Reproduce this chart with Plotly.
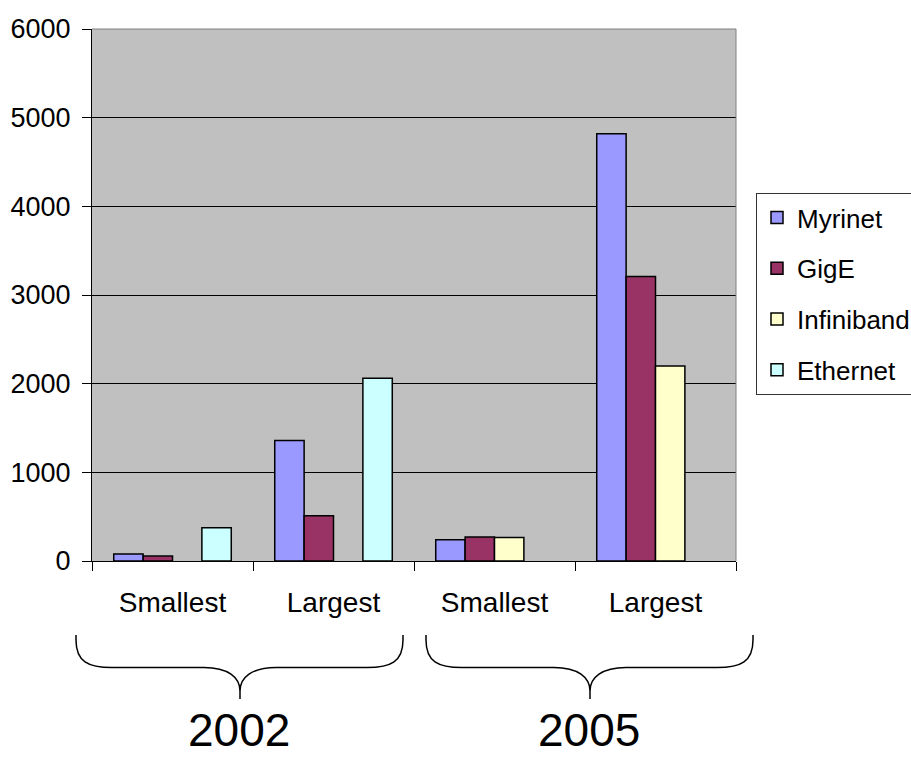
import plotly.graph_objects as go

# ---- data ----
categories = ["2002 Smallest", "2002 Largest", "2005 Smallest", "2005 Largest"]
tick_labels = ["Smallest", "Largest", "Smallest", "Largest"]
years = ["2002", "2005"]
myrinet = [80, 1360, 240, 4820]
gige = [55, 510, 270, 3210]
infiniband = [None, None, 265, 2200]
ethernet = [375, 2060, None, None]

series = [
    ("Myrinet", myrinet, "#9999FF"),
    ("GigE", gige, "#993366"),
    ("Infiniband", infiniband, "#FFFFCC"),
    ("Ethernet", ethernet, "#CCFFFF"),
]

W, H = 911, 759
L, R, T, B = 92, 175, 29, 198
PW = W - L - R
PH = H - T - B
FONT = "Liberation Sans, Arial, sans-serif"


def px(x):
    return (x - L) / PW


def py(y):
    return (H - B - y) / PH


fig = go.Figure()
for i, (name, vals, col) in enumerate(series):
    fig.add_trace(go.Bar(
        x=categories, y=vals, name=name,
        marker=dict(color=col, line=dict(color="black", width=1.5)),
        legendgroup=f"g{i}",
    ))


def brace(x0, xc, x1, ytop=635, ymid=667.5, ybot=699):
    def P(x, y):
        return f"{px(x):.5f},{py(y):.5f}"
    d = (f"M {P(x0, ytop)} L {P(x0, ytop + 5)} "
         f"C {P(x0, ymid - 6)} {P(x0 + 12, ymid)} {P(x0 + 36, ymid)} "
         f"L {P(xc - 36, ymid)} "
         f"C {P(xc - 12, ymid)} {P(xc, ymid + 10)} {P(xc, ybot - 8)} "
         f"L {P(xc, ybot)} M {P(xc, ybot - 8)} "
         f"C {P(xc, ymid + 10)} {P(xc + 12, ymid)} {P(xc + 36, ymid)} "
         f"L {P(x1 - 36, ymid)} "
         f"C {P(x1 - 12, ymid)} {P(x1, ymid - 6)} {P(x1, ytop + 5)} "
         f"L {P(x1, ytop)}")
    return d


shapes = [
    dict(type="path", xref="paper", yref="paper",
         path="M 0,1 L 1,1 L 1,0", line=dict(color="#808080", width=1),
         layer="above"),
    dict(type="path", xref="paper", yref="paper",
         path=brace(76, 240, 403), line=dict(color="black", width=1.5)),
    dict(type="path", xref="paper", yref="paper",
         path=brace(426, 590, 753), line=dict(color="black", width=1.5)),
]

annotations = [
    dict(text=years[0], x=px(239), y=py(758), xref="paper", yref="paper",
         showarrow=False, xanchor="center", yanchor="bottom",
         font=dict(family=FONT, size=46, color="black")),
    dict(text=years[1], x=px(589), y=py(758), xref="paper", yref="paper",
         showarrow=False, xanchor="center", yanchor="bottom",
         font=dict(family=FONT, size=46, color="black")),
]

fig.update_layout(
    width=W, height=H,
    margin=dict(l=L, r=R, t=T, b=B, autoexpand=False),
    paper_bgcolor="white",
    plot_bgcolor="#C0C0C0",
    barmode="group",
    bargap=0.27,
    bargroupgap=0,
    font=dict(family=FONT, color="black"),
    showlegend=True,
    legend=dict(
        x=px(756), y=py(193), xanchor="left", yanchor="top",
        bgcolor="white", bordercolor="#333333", borderwidth=1,
        font=dict(family=FONT, size=26, color="black"),
        traceorder="grouped", tracegroupgap=14,
    ),
    xaxis=dict(
        type="category", categoryorder="array", categoryarray=categories,
        tickmode="array", tickvals=categories, ticktext=tick_labels,
        tickson="boundaries", ticks="outside", ticklen=9, tickcolor="black",
        showline=True, linecolor="black", linewidth=1,
        showgrid=False,
        tickfont=dict(family=FONT, size=28, color="black"),
        ticklabelstandoff=16,
    ),
    yaxis=dict(
        range=[0, 6000], dtick=1000, tick0=0, tickformat="d",
        ticks="outside", ticklen=9, tickcolor="black",
        showline=True, linecolor="black", linewidth=1,
        showgrid=True, gridcolor="black", gridwidth=1,
        zeroline=False,
        tickfont=dict(family=FONT, size=27, color="black"),
        ticklabelstandoff=6,
    ),
    shapes=shapes,
    annotations=annotations,
)

fig.write_html("out.html")
